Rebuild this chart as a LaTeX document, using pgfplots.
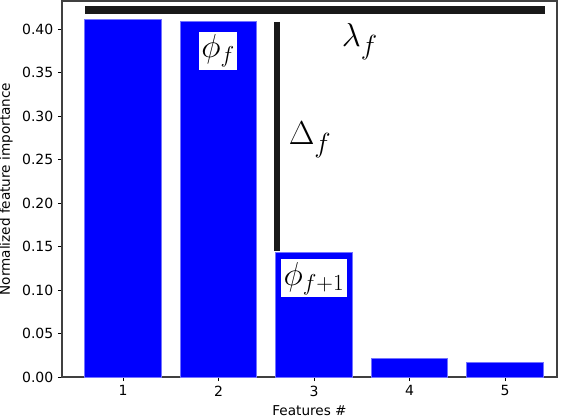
\documentclass[border=0pt]{standalone}
\usepackage{pgfplots}
\pgfplotsset{compat=1.18}
\usepackage{fontspec}
\setmainfont{DejaVu Sans}
\begin{document}
\begin{tikzpicture}
\begin{axis}[
    scale only axis,
    width=371.25pt, height=282pt,
    ybar, bar width=0.8, bar shift=0pt,
    xmin=0.361, xmax=5.545,
    ymin=0, ymax=0.4325,
    xtick={1,2,3,4,5},
    ytick={0,0.05,...,0.40},
    yticklabel style={/pgf/number format/.cd, fixed, fixed zerofill, precision=2},
    /pgf/number format/assume math mode=true,
    tick align=outside,
    xtick pos=bottom, ytick pos=left,
    major tick length=3pt,
    tick style={black, line width=0.6pt},
    axis line style={black!75, line width=0.8pt},
    ticklabel style={font=\fontsize{10.5}{12}\selectfont},
    label style={font=\fontsize{10.2}{12}\selectfont},
    xlabel={Features \#},
    ylabel={Normalized feature importance},
    ylabel style={at={(axis description cs:-0.113,0.5)}, anchor=center},
    xlabel style={at={(axis description cs:0.5,-0.0745)}, anchor=north, inner sep=0pt},
]
\addplot[fill=blue, draw=blue!55, line width=0.6pt] coordinates {(1,0.4117) (2,0.4088) (3,0.1433) (4,0.0214) (5,0.0169)};
% annotation lines
\addplot[sharp plot, black!90, line width=6pt, forget plot] coordinates {(0.602,0.4222) (5.42,0.4222)};
\addplot[sharp plot, black!90, line width=4pt, forget plot] coordinates {(2.613,0.4084) (2.613,0.1452)};
\node[fill=white, inner sep=2pt, font=\fontsize{24}{28}\selectfont] at (axis cs:1.995,0.375) {$\phi_f$};
\node[fill=white, inner sep=2pt, font=\fontsize{24}{28}\selectfont] at (axis cs:3.0,0.1136) {$\phi_{f+1}$};
\node[font=\fontsize{30}{36}\selectfont] at (axis cs:3.48,0.3856) {$\lambda_f$};
\node[font=\fontsize{30}{36}\selectfont] at (axis cs:2.96,0.2729) {$\Delta_f$};
\end{axis}
\pgfresetboundingbox
\useasboundingbox (current axis.south west) ++(-46.5pt,-30.75pt) rectangle ([shift={(8.25pt,0.75pt)}]current axis.north east);
\end{tikzpicture}
\end{document}
